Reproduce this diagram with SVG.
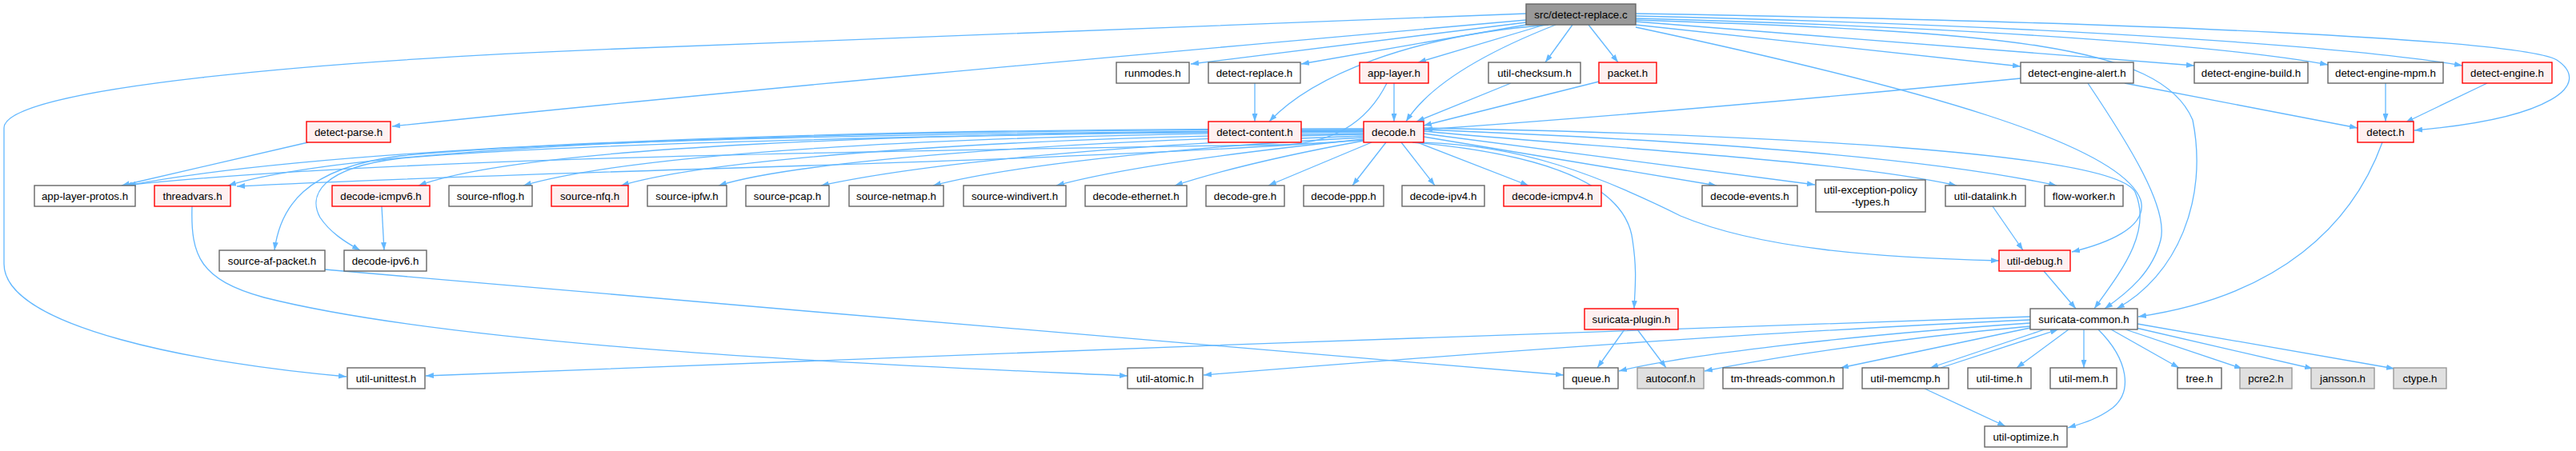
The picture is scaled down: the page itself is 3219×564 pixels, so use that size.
<svg xmlns="http://www.w3.org/2000/svg" width="3219" height="564" viewBox="0 0 3219 564">
<style>
.n rect{fill:#ffffff;stroke:#666666;stroke-width:1.4}
.r rect{fill:#fff0f0;stroke:#ff0000;stroke-width:1.4}
.g rect{fill:#e0e0e0;stroke:#999999;stroke-width:1.4}
.t rect{fill:#999999;stroke:#666666;stroke-width:1.4}
text{font-family:"Liberation Sans",Arial,Helvetica,sans-serif;font-size:13.33px;fill:#000000;text-anchor:middle}
#edges path{fill:none;stroke:#63b8ff;stroke-width:1.3;marker-end:url(#a)}
</style>
<defs>
<marker id="a" viewBox="0 0 10 7" refX="10" refY="3.5" markerWidth="10" markerHeight="7" markerUnits="userSpaceOnUse" orient="auto"><path d="M0,0L10,3.5L0,7z" fill="#63b8ff"/></marker>
</defs>
<rect width="3219" height="564" fill="#ffffff"/>
<g id="edges">
<path d="M1907,25 C1400,70 900,115 490,158"/>
<path d="M1907,17 L800,60 C400,75 5,110 5,160 L5,330 C5,410 250,455 433,471"/>
<path d="M1907,28 L1488,80"/>
<path d="M1907,31 L1626,80"/>
<path d="M1935,31 C1760,45 1640,95 1586,152"/>
<path d="M1930,31 L1772,78"/>
<path d="M1944,31 C1870,60 1790,100 1757,152"/>
<path d="M1965,31 L1931,78"/>
<path d="M1985,31 L2022,78"/>
<path d="M2044,31 L2525,83"/>
<path d="M2044,27 L2742,82"/>
<path d="M2044,23 C2500,35 2800,60 2909,81"/>
<path d="M2044,20 C2600,33 2950,60 3077,82"/>
<path d="M2044,17 C2700,28 3150,50 3195,75 C3240,105 3190,148 3017,163"/>
<path d="M2044,34 C2400,110 2650,180 2675,250 C2685,285 2630,305 2589,315"/>
<path d="M2044,25 C2500,40 2700,55 2740,150 C2760,250 2720,345 2645,386"/>
<path d="M1568,104 L1568,152"/>
<path d="M1742,104 L1742,152"/>
<path d="M1733,104 C1715,140 1680,180 1600,181 C1000,190 450,200 155,232"/>
<path d="M1888,104 L1770,152"/>
<path d="M1998,102 L1779,157"/>
<path d="M2525,98 C2200,130 1950,150 1780,162"/>
<path d="M2655,104 L2946,160"/>
<path d="M2609,104 C2660,180 2710,260 2700,300 C2690,340 2660,365 2630,386"/>
<path d="M2981,104 L2981,152"/>
<path d="M3108,104 L3006,153"/>
<path d="M2977,178 C2940,280 2850,370 2672,396"/>
<path d="M385,178 L152,232"/>
<path d="M1779,171 L2145,232"/>
<path d="M1779,167 L2268,231"/>
<path d="M1779,164 C2000,185 2300,200 2445,232"/>
<path d="M1779,162 C2100,175 2400,195 2570,232"/>
<path d="M1779,160 C2200,168 2640,190 2668,240 C2690,290 2650,340 2617,386"/>
<path d="M1770,178 C1900,180 2000,220 2100,270 C2200,312 2350,322 2498,326"/>
<path d="M1765,178 C1900,190 2030,220 2040,300 C2046,340 2043,360 2042,386"/>
<path d="M1732,178 L1690,232"/>
<path d="M1751,178 L1793,232"/>
<path d="M1771,178 L1910,232"/>
<path d="M1714,178 L1585,232"/>
<path d="M1704,176 C1600,195 1520,215 1468,232"/>
<path d="M1704,174 C1550,190 1400,210 1320,232"/>
<path d="M1704,172 C1450,185 1250,210 1166,232"/>
<path d="M1704,170 C1400,180 1150,205 1026,232"/>
<path d="M1704,168 C1350,175 1000,200 898,232"/>
<path d="M1704,167 C1300,170 900,195 776,232"/>
<path d="M1704,165 C1200,168 800,190 654,232"/>
<path d="M1704,164 C1100,165 650,185 523,232"/>
<path d="M1704,175 C1300,205 700,212 296,233"/>
<path d="M1704,162 C1000,162 450,182 285,232"/>
<path d="M1704,161 C1000,160 400,185 160,232"/>
<path d="M1704,163 C1200,165 700,175 500,195 C380,210 350,260 343,313"/>
<path d="M1704,164 C1200,167 700,180 500,198 C400,210 385,245 400,272 C412,290 430,302 450,313"/>
<path d="M477,258 L480,313"/>
<path d="M240,258 C238,320 250,350 330,372 C600,440 1200,460 1409,470"/>
<path d="M406,337 C900,380 1600,440 1954,469"/>
<path d="M2490,258 L2528,313"/>
<path d="M2554,339 L2594,386"/>
<path d="M2030,412 L1996,460"/>
<path d="M2046,412 L2082,460"/>
<path d="M2537,396 C2000,412 1000,452 532,470"/>
<path d="M2537,400 C2200,415 1800,445 1504,469"/>
<path d="M2537,404 C2300,420 2100,445 2023,464"/>
<path d="M2537,408 C2350,425 2200,450 2130,464"/>
<path d="M2537,410 L2300,460"/>
<path d="M2555,412 L2412,460"/>
<path d="M2425,460 L2572,412"/>
<path d="M2585,412 L2520,460"/>
<path d="M2604,412 L2604,460"/>
<path d="M2622,412 C2660,450 2665,490 2640,510 C2620,525 2600,530 2584,535"/>
<path d="M2638,412 L2723,460"/>
<path d="M2656,412 L2802,461"/>
<path d="M2669,410 L2890,461"/>
<path d="M2671,405 L2992,461"/>
<path d="M2405,486 L2506,533"/>
</g>
<g id="n-src" class="t"><rect x="1907" y="5" width="137" height="26"/><text x="1975.5" y="22.5">src/detect-replace.c</text></g>
<g id="n-runmodes" class="n"><rect x="1395" y="78" width="91" height="26"/><text x="1440.5" y="95.5">runmodes.h</text></g>
<g id="n-detect-replace" class="n"><rect x="1510" y="78" width="115" height="26"/><text x="1567.5" y="95.5">detect-replace.h</text></g>
<g id="n-app-layer" class="r"><rect x="1699" y="78" width="86" height="26"/><text x="1742" y="95.5">app-layer.h</text></g>
<g id="n-util-checksum" class="n"><rect x="1860" y="78" width="115" height="26"/><text x="1917.5" y="95.5">util-checksum.h</text></g>
<g id="n-packet" class="r"><rect x="1998" y="78" width="72" height="26"/><text x="2034" y="95.5">packet.h</text></g>
<g id="n-detect-engine-alert" class="n"><rect x="2525" y="78" width="141" height="26"/><text x="2595.5" y="95.5">detect-engine-alert.h</text></g>
<g id="n-detect-engine-build" class="n"><rect x="2742" y="78" width="142" height="26"/><text x="2813" y="95.5">detect-engine-build.h</text></g>
<g id="n-detect-engine-mpm" class="n"><rect x="2909" y="78" width="144" height="26"/><text x="2981" y="95.5">detect-engine-mpm.h</text></g>
<g id="n-detect-engine" class="r"><rect x="3077" y="78" width="112" height="26"/><text x="3133" y="95.5">detect-engine.h</text></g>
<g id="n-detect-parse" class="r"><rect x="383" y="152" width="105" height="26"/><text x="435.5" y="169.5">detect-parse.h</text></g>
<g id="n-detect-content" class="r"><rect x="1510" y="152" width="116" height="26"/><text x="1568" y="169.5">detect-content.h</text></g>
<g id="n-decode" class="r"><rect x="1704" y="152" width="75" height="26"/><text x="1741.5" y="169.5">decode.h</text></g>
<g id="n-detect" class="r"><rect x="2946" y="152" width="70" height="26"/><text x="2981" y="169.5">detect.h</text></g>
<g id="n-app-layer-protos" class="n"><rect x="43" y="232" width="126" height="26"/><text x="106" y="249.5">app-layer-protos.h</text></g>
<g id="n-threadvars" class="r"><rect x="193" y="232" width="95" height="26"/><text x="240.5" y="249.5">threadvars.h</text></g>
<g id="n-decode-icmpv6" class="r"><rect x="415" y="232" width="122" height="26"/><text x="476" y="249.5">decode-icmpv6.h</text></g>
<g id="n-source-nflog" class="n"><rect x="561" y="232" width="104" height="26"/><text x="613" y="249.5">source-nflog.h</text></g>
<g id="n-source-nfq" class="r"><rect x="689" y="232" width="96" height="26"/><text x="737" y="249.5">source-nfq.h</text></g>
<g id="n-source-ipfw" class="n"><rect x="809" y="232" width="99" height="26"/><text x="858.5" y="249.5">source-ipfw.h</text></g>
<g id="n-source-pcap" class="n"><rect x="932" y="232" width="104" height="26"/><text x="984" y="249.5">source-pcap.h</text></g>
<g id="n-source-netmap" class="n"><rect x="1061" y="232" width="118" height="26"/><text x="1120" y="249.5">source-netmap.h</text></g>
<g id="n-source-windivert" class="n"><rect x="1204" y="232" width="128" height="26"/><text x="1268" y="249.5">source-windivert.h</text></g>
<g id="n-decode-ethernet" class="n"><rect x="1356" y="232" width="127" height="26"/><text x="1419.5" y="249.5">decode-ethernet.h</text></g>
<g id="n-decode-gre" class="n"><rect x="1507" y="232" width="98" height="26"/><text x="1556" y="249.5">decode-gre.h</text></g>
<g id="n-decode-ppp" class="n"><rect x="1629" y="232" width="100" height="26"/><text x="1679" y="249.5">decode-ppp.h</text></g>
<g id="n-decode-ipv4" class="n"><rect x="1752" y="232" width="103" height="26"/><text x="1803.5" y="249.5">decode-ipv4.h</text></g>
<g id="n-decode-icmpv4" class="r"><rect x="1879" y="232" width="122" height="26"/><text x="1940" y="249.5">decode-icmpv4.h</text></g>
<g id="n-decode-events" class="n"><rect x="2127" y="232" width="119" height="26"/><text x="2186.5" y="249.5">decode-events.h</text></g>
<g id="n-util-exception-policy-types" class="n"><rect x="2269" y="225" width="137" height="40"/><text x="2337.5" y="242">util-exception-policy</text><text x="2337.5" y="257">-types.h</text></g>
<g id="n-util-datalink" class="n"><rect x="2431" y="232" width="100" height="26"/><text x="2481" y="249.5">util-datalink.h</text></g>
<g id="n-flow-worker" class="n"><rect x="2555" y="232" width="98" height="26"/><text x="2604" y="249.5">flow-worker.h</text></g>
<g id="n-source-af-packet" class="n"><rect x="274" y="313" width="132" height="26"/><text x="340" y="330.5">source-af-packet.h</text></g>
<g id="n-decode-ipv6" class="n"><rect x="430" y="313" width="103" height="26"/><text x="481.5" y="330.5">decode-ipv6.h</text></g>
<g id="n-util-debug" class="r"><rect x="2498" y="313" width="89" height="26"/><text x="2542.5" y="330.5">util-debug.h</text></g>
<g id="n-suricata-plugin" class="r"><rect x="1980" y="386" width="117" height="26"/><text x="2038.5" y="403.5">suricata-plugin.h</text></g>
<g id="n-suricata-common" class="n"><rect x="2537" y="386" width="134" height="26"/><text x="2604" y="403.5">suricata-common.h</text></g>
<g id="n-util-unittest" class="n"><rect x="434" y="460" width="97" height="26"/><text x="482.5" y="477.5">util-unittest.h</text></g>
<g id="n-util-atomic" class="n"><rect x="1409" y="460" width="94" height="26"/><text x="1456" y="477.5">util-atomic.h</text></g>
<g id="n-queue" class="n"><rect x="1954" y="460" width="68" height="26"/><text x="1988" y="477.5">queue.h</text></g>
<g id="n-autoconf" class="g"><rect x="2046" y="460" width="83" height="26"/><text x="2087.5" y="477.5">autoconf.h</text></g>
<g id="n-tm-threads-common" class="n"><rect x="2153" y="460" width="150" height="26"/><text x="2228" y="477.5">tm-threads-common.h</text></g>
<g id="n-util-memcmp" class="n"><rect x="2327" y="460" width="108" height="26"/><text x="2381" y="477.5">util-memcmp.h</text></g>
<g id="n-util-time" class="n"><rect x="2459" y="460" width="79" height="26"/><text x="2498.5" y="477.5">util-time.h</text></g>
<g id="n-util-mem" class="n"><rect x="2562" y="460" width="83" height="26"/><text x="2603.5" y="477.5">util-mem.h</text></g>
<g id="n-tree" class="n"><rect x="2721" y="460" width="55" height="26"/><text x="2748.5" y="477.5">tree.h</text></g>
<g id="n-pcre2" class="g"><rect x="2799" y="460" width="65" height="26"/><text x="2831.5" y="477.5">pcre2.h</text></g>
<g id="n-jansson" class="g"><rect x="2888" y="460" width="79" height="26"/><text x="2927.5" y="477.5">jansson.h</text></g>
<g id="n-ctype" class="g"><rect x="2991" y="460" width="66" height="26"/><text x="3024" y="477.5">ctype.h</text></g>
<g id="n-util-optimize" class="n"><rect x="2480" y="533" width="103" height="26"/><text x="2531.5" y="550.5">util-optimize.h</text></g>
</svg>
